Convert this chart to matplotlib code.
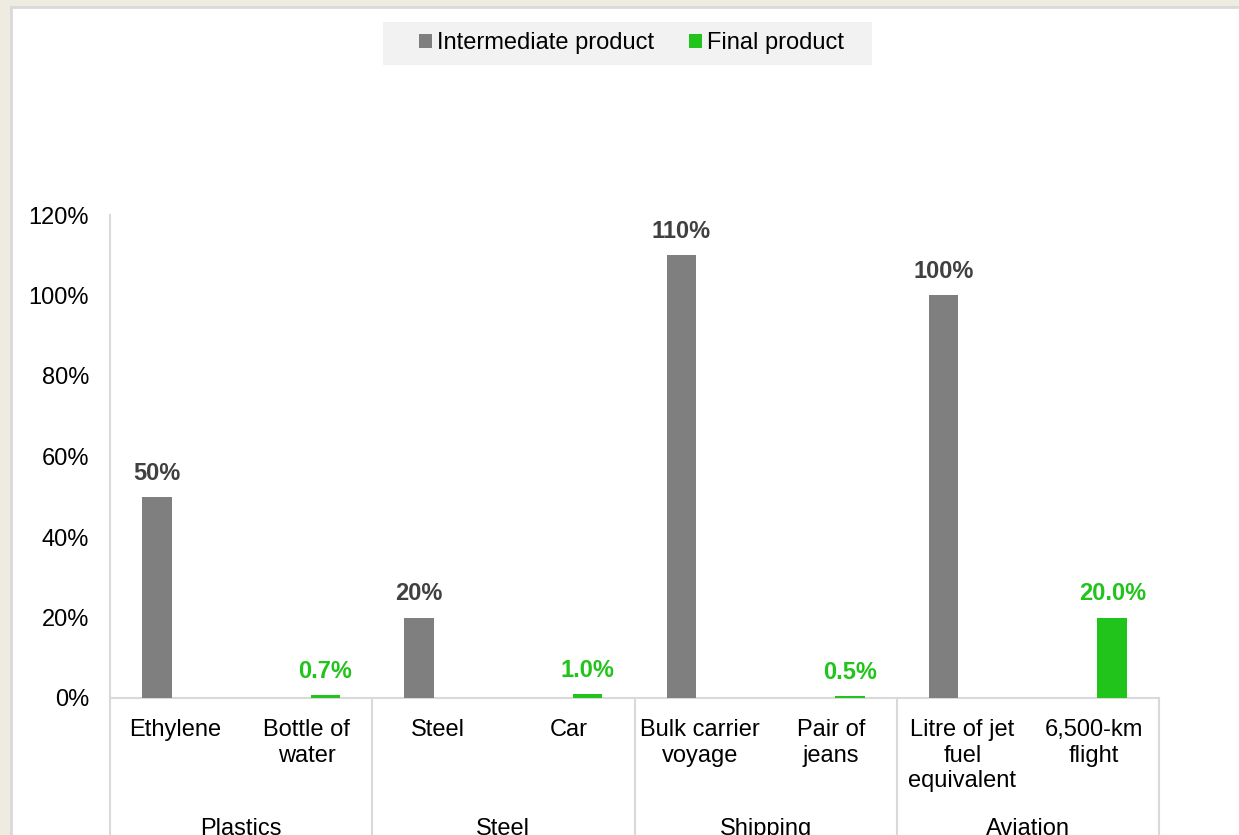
import matplotlib
matplotlib.use("Agg")
import matplotlib.pyplot as plt
from matplotlib.patches import Patch, Rectangle
import numpy as np

plt.rcParams['font.family'] = ['Liberation Sans', 'DejaVu Sans']

# ---- data ----
categories = ["Ethylene", "Bottle of\nwater", "Steel", "Car", "Bulk carrier\nvoyage",
              "Pair of\njeans", "Litre of jet\nfuel\nequivalent", "6,500-km\nflight"]
groups = ["Plastics", "Steel", "Shipping", "Aviation"]
series_names = ["Intermediate product", "Final product"]
intermediate = [50, 0, 20, 0, 110, 0, 100, 0]
final = [0, 0.7, 0, 1.0, 0, 0.5, 0, 20.0]
labels_intermediate = ["50%", None, "20%", None, "110%", None, "100%", None]
labels_final = [None, "0.7%", None, "1.0%", None, "0.5%", None, "20.0%"]
yticks = [0, 20, 40, 60, 80, 100, 120]
ytick_labels = ["0%", "20%", "40%", "60%", "80%", "100%", "120%"]

GRAY = "#7F7F7F"
GREEN = "#21C41B"
LABEL_GRAY = "#404040"
LINE = "#D9D9D9"
BEIGE = "#EEEBE0"

W, H = 1239, 835
fig = plt.figure(figsize=(W / 100, H / 100), dpi=100, facecolor=BEIGE)

# white panel
panel = Rectangle((11 / W, -0.01), 1.0, 1.01 - 7 / H, transform=fig.transFigure,
                  facecolor="white", edgecolor=LINE, linewidth=2, zorder=-10)
fig.patches.append(panel)
# legend background
legbg = Rectangle((383 / W, 1 - 65 / H), (872 - 383) / W, 43 / H, transform=fig.transFigure,
                  facecolor="#F2F2F2", edgecolor="none", zorder=-5)
fig.patches.append(legbg)

ax = fig.add_axes([110 / W, (H - 698) / H, (1159 - 110) / W, (698 - 215) / H])
ax.set_facecolor("none")

x = np.arange(len(categories))
bw = 0.225
off = 0.143
ax.bar(x - off, intermediate, width=bw, color=GRAY, zorder=3)
ax.bar(x + off, final, width=bw, color=GREEN, zorder=3)

fs = 17
for xi, v, lab in zip(x, intermediate, labels_intermediate):
    if lab:
        ax.annotate(lab, xy=(xi - off, v), xytext=(0, 12), textcoords="offset pixels",
                    ha="center", va="bottom", fontsize=fs, fontweight="bold", color=LABEL_GRAY)
for xi, v, lab in zip(x, final, labels_final):
    if lab:
        ax.annotate(lab, xy=(xi + off, v), xytext=(0, 12), textcoords="offset pixels",
                    ha="center", va="bottom", fontsize=fs, fontweight="bold", color=GREEN)

ax.set_xlim(-0.5, len(categories) - 0.5)
ax.set_ylim(0, 120)
ax.set_yticks(yticks)
ax.set_yticklabels(ytick_labels, fontsize=fs, color="black")
ax.tick_params(axis="y", length=0, pad=15)
ax.set_xticks([])
for s in ["top", "right"]:
    ax.spines[s].set_visible(False)
for s in ["left", "bottom"]:
    ax.spines[s].set_color(LINE)
    ax.spines[s].set_linewidth(1.5)

# category labels
for xi, c in zip(x, categories):
    ax.annotate(c, xy=(xi, 0), xycoords=("data", "axes fraction"),
                xytext=(0, -21), textcoords="offset pixels", ha="center", va="top",
                fontsize=fs, linespacing=1.215, color="black", annotation_clip=False)

# group labels and separators
for gi, g in enumerate(groups):
    cx = gi * 2 + 0.5
    ax.annotate(g, xy=(cx, 0), xycoords=("data", "axes fraction"),
                xytext=(0, -131), textcoords="offset pixels", ha="center", va="center",
                fontsize=fs, color="black", annotation_clip=False)
for b in range(len(groups) + 1):
    xb = b * 2 - 0.5
    ax.plot([xb, xb], [0, -0.4], transform=ax.get_xaxis_transform(), color=LINE,
            linewidth=1.5, clip_on=False, zorder=1)

handles = [Patch(facecolor=GRAY, edgecolor="none"), Patch(facecolor=GREEN, edgecolor="none")]
leg = fig.legend(handles, series_names, loc="center", bbox_to_anchor=(631.5 / W, 1 - 43 / H),
                 ncol=2, fontsize=fs, frameon=False, handlelength=0.55, handleheight=0.55,
                 handletextpad=0.25, columnspacing=1.44, borderpad=0, borderaxespad=0)

fig.savefig("out.png", dpi=100, facecolor=BEIGE)
